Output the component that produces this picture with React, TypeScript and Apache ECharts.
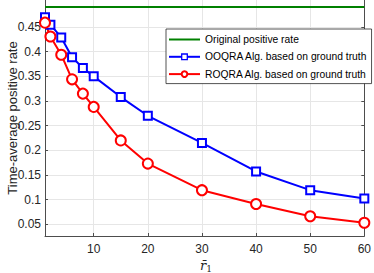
import React, { useEffect, useRef } from "react";
import * as echarts from "echarts";

const xValues = [1, 2, 4, 6, 8, 10, 15, 20, 30, 40, 50, 60];
const ooqraValues = [0.470, 0.455, 0.429, 0.389, 0.367, 0.350, 0.308, 0.270, 0.215, 0.157, 0.119, 0.102];
const roqraValues = [0.459, 0.431, 0.394, 0.344, 0.315, 0.288, 0.220, 0.173, 0.119, 0.091, 0.066, 0.053];
const originalX = [1, 60];
const originalValues = [0.491, 0.491];
const xTicks = [10, 20, 30, 40, 50, 60];
const yTicks = [0.05, 0.1, 0.15, 0.2, 0.25, 0.3, 0.35, 0.4, 0.45];
const seriesNames = [
  "Original positive rate",
  "OOQRA Alg. based on ground truth",
  "ROQRA Alg. based on ground truth",
];

export default function App() {
  const ref = useRef<HTMLDivElement>(null);
  useEffect(() => {
    if (!ref.current) return;
    const chart = echarts.init(ref.current, null, { renderer: "svg" });
    const axisColor = "#4d4d4d";
    const gridColor = "#e6e6e6";
    const font = "Liberation Sans, Arial, sans-serif";
    const zip = (xs: number[], ys: number[]) => xs.map((x, i) => [x, ys[i]]);
    chart.setOption({
      animation: false,
      grid: { left: 45, right: 7, top: 0, bottom: 37, containLabel: false },
      xAxis: {
        type: "value",
        min: 1,
        max: 60,
        axisLine: { show: true, lineStyle: { color: axisColor, width: 1 } },
        axisTick: { show: true, inside: true, length: 3, customValues: xTicks, lineStyle: { color: axisColor } },
        axisLabel: { customValues: xTicks, color: "#262626", fontSize: 12, fontFamily: font, margin: 7 },
        splitLine: { show: true, lineStyle: { color: gridColor, width: 1 } },
      },
      yAxis: [
        {
          type: "value",
          min: 0.026,
          max: 0.505,
          axisLine: { show: true, lineStyle: { color: axisColor, width: 1 } },
          axisTick: { show: true, inside: true, length: 3, customValues: yTicks, lineStyle: { color: axisColor } },
          axisLabel: { customValues: yTicks, color: "#262626", fontSize: 12, fontFamily: font, margin: 4 },
          splitLine: { show: true, lineStyle: { color: gridColor, width: 1 } },
        },
        {
          type: "value",
          position: "right",
          min: 0.026,
          max: 0.505,
          axisLine: { show: true, lineStyle: { color: axisColor, width: 1 } },
          axisTick: { show: true, inside: true, length: 3, customValues: yTicks, lineStyle: { color: axisColor } },
          axisLabel: { show: false },
          splitLine: { show: false },
        },
      ],
      legend: {
        left: 166,
        top: 29,
        orient: "vertical",
        backgroundColor: "#ffffff",
        borderColor: "#262626",
        borderWidth: 0.8,
        borderRadius: 0,
        padding: [5.5, 4, 4.5, 2],
        itemWidth: 31,
        itemHeight: 7,
        itemGap: 7.3,
        itemStyle: { borderWidth: 1.3 },
        textStyle: { fontSize: 10.3, fontFamily: font, color: "#000" },
        data: [
          { name: seriesNames[0], icon: "path://M0,0 M0,2.5h31v2h-31z M31,7" },
          { name: seriesNames[1] },
          { name: seriesNames[2] },
        ],
      },
      series: [
        {
          name: seriesNames[0],
          type: "line",
          data: zip(originalX, originalValues),
          symbol: "none",
          lineStyle: { color: "#008000", width: 2 },
          itemStyle: { color: "#008000" },
          color: "#008000",
        },
        {
          name: seriesNames[1],
          type: "line",
          data: zip(xValues, ooqraValues),
          symbol: "rect",
          symbolSize: 8,
          lineStyle: { color: "#0000ff", width: 2 },
          itemStyle: { color: "#ffffff", borderColor: "#0000ff", borderWidth: 2 },
          color: "#0000ff",
        },
        {
          name: seriesNames[2],
          type: "line",
          data: zip(xValues, roqraValues),
          symbol: "emptyCircle",
          symbolSize: 10,
          lineStyle: { color: "#ff0000", width: 2 },
          itemStyle: { color: "#ff0000", borderColor: "#ff0000", borderWidth: 2 },
          color: "#ff0000",
        },
      ],
      graphic: [
        {
          type: "text",
          x: 12,
          y: 118,
          rotation: Math.PI / 2,
          style: {
            text: "Time-average positive rate",
            fontSize: 13,
            fontFamily: font,
            fill: "#262626",
            align: "center",
            verticalAlign: "middle",
          },
        },
        {
          type: "text",
          x: 206,
          y: 265,
          style: {
            text: "{r|r\u0304}{s|1}",
            align: "center",
            verticalAlign: "middle",
            rich: {
              r: { fontSize: 13, fontFamily: "DejaVu Serif", fontStyle: "italic", fill: "#262626" },
              s: { fontSize: 9, fontFamily: "DejaVu Serif", fill: "#262626", padding: [8, 0, 0, 0] },
            },
          },
        },
      ],
    });
    return () => chart.dispose();
  }, []);
  return <div ref={ref} style={{ width: 374, height: 273, position: "absolute", left: 0, top: 0 }} />;
}
